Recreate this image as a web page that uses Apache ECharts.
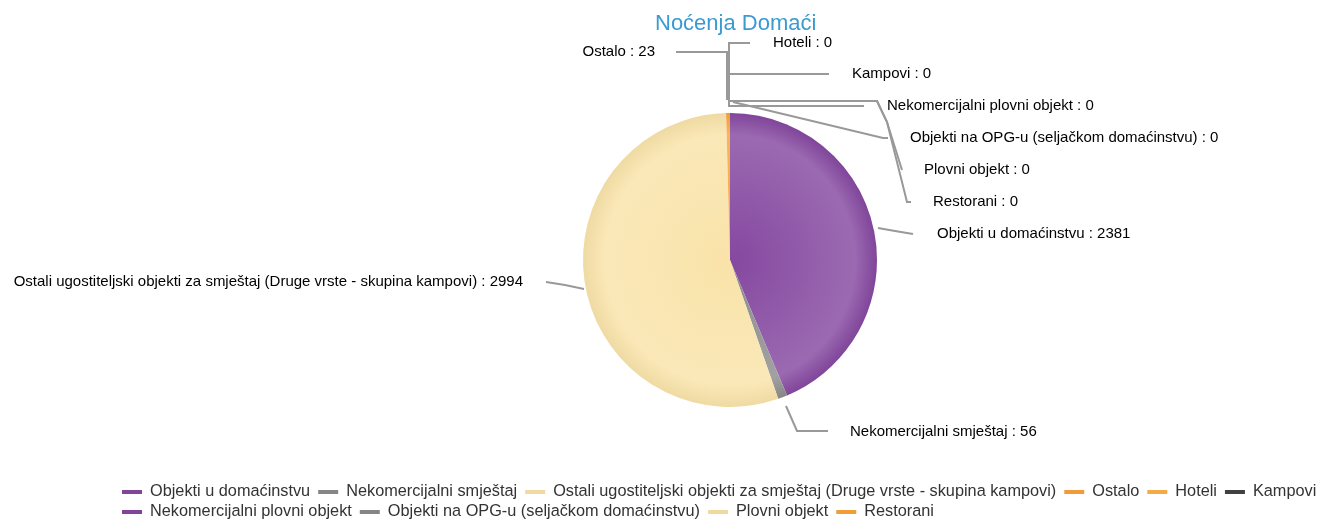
<!DOCTYPE html>
<html>
<head>
<meta charset="utf-8">
<script src="https://cdn.jsdelivr.net/npm/echarts@6/dist/echarts.min.js"></script>
<style>
  html, body { margin: 0; padding: 0; background: #fff; }
  #main { width: 1341px; height: 519px; }
</style>
</head>
<body>
<div id="main"></div>
<script>
// kategorije i vrijednosti
var categories = [
  'Objekti u domaćinstvu',
  'Nekomercijalni smještaj',
  'Ostali ugostiteljski objekti za smještaj (Druge vrste - skupina kampovi)',
  'Ostalo',
  'Hoteli',
  'Kampovi',
  'Nekomercijalni plovni objekt',
  'Objekti na OPG-u (seljačkom domaćinstvu)',
  'Plovni objekt',
  'Restorani'
];
var values = [2381, 56, 2994, 23, 0, 0, 0, 0, 0, 0];
var palette = ['#8548a0', '#8c8c8c', '#f9e3a9', '#fba33a', '#fdb24a', '#444444'];

var cx = 730, cy = 260, R = 147;

// raspored oznaka (kao u originalu): pozicija teksta + linija
var labelSpots = [
  { x: 937, y: 234, align: 'left',  line: [[878, 228], [895, 231], [913, 234]] },
  { x: 850, y: 432, align: 'left',  line: [[786, 406], [797, 431], [828, 431]] },
  { x: 523, y: 282, align: 'right', line: [[584, 289], [565, 285], [546, 282]] },
  { x: 655, y: 52,  align: 'right', line: [[727, 100], [727, 52], [676, 52]] },
  { x: 773, y: 43,  align: 'left',  line: [[729, 100], [729, 43], [750, 43]] },
  { x: 852, y: 74,  align: 'left',  line: [[729, 100], [729, 74], [829, 74]] },
  { x: 887, y: 106, align: 'left',  line: [[729, 100], [729, 106], [864, 106]] },
  { x: 910, y: 138, align: 'left',  line: [[733, 102], [883, 138], [888, 138]] },
  { x: 924, y: 170, align: 'left',  line: [[729, 101], [877, 101], [887, 122], [902, 170]] },
  { x: 933, y: 202, align: 'left',  line: [[729, 101], [877, 101], [887, 122], [907, 202], [911, 202]] }
];

function shade(hex, amt) {
  var n = parseInt(hex.slice(1), 16);
  var r = (n >> 16) & 255, g = (n >> 8) & 255, b = n & 255;
  function f(c) { return Math.max(0, Math.min(255, Math.round(c + (amt > 0 ? (255 - c) * amt : c * amt)))); }
  return 'rgb(' + f(r) + ',' + f(g) + ',' + f(b) + ')';
}

var myChart = echarts.init(document.getElementById('main'));
myChart.setOption({
  animation: false,
  color: palette,
  title: {
    text: 'Noćenja Domaći',
    left: 650,
    top: 8,
    textStyle: { color: '#3b9ad2', fontSize: 22, fontWeight: 'normal', fontFamily: 'Liberation Sans' }
  },
  legend: {
    left: 117,
    right: 0,
    top: 479,
    itemGap: 4,
    itemWidth: 20,
    itemHeight: 4,
    icon: 'rect',
    formatter: '{n|{name}}',
    textStyle: {
      color: '#333',
      fontSize: 16.3,
      fontFamily: 'Liberation Sans',
      rich: {
        n: { color: '#333', fontSize: 16.3, fontFamily: 'Liberation Sans', lineHeight: 14, padding: [0, 4, 0, 3] }
      }
    },
    data: categories
  },
  series: [{
    type: 'pie',
    center: [cx, cy],
    radius: R,
    startAngle: 90,
    clockwise: true,
    minAngle: 0,
    avoidLabelOverlap: false,
    stillShowZeroSum: true,
    label: {
      show: true,
      formatter: '{b} : {c}',
      color: '#000',
      fontSize: 15,
      fontFamily: 'Liberation Sans'
    },
    labelLine: {
      show: true,
      length: 20,
      length2: 30,
      lineStyle: { color: '#999', width: 2 }
    },
    labelLayout: function (params) {
      var s = labelSpots[params.dataIndex];
      return {
        x: s.x,
        y: s.y,
        align: s.align,
        verticalAlign: 'middle',
        labelLinePoints: s.line
      };
    },
    data: categories.map(function (name, i) {
      var base = palette[i % palette.length];
      return {
        name: name,
        value: values[i],
        itemStyle: {
          color: {
            type: 'radial', x: cx, y: cy, r: R, global: true,
            colorStops: [
              { offset: 0, color: base },
              { offset: 0.85, color: shade(base, 0.18) },
              { offset: 1, color: shade(base, -0.04) }
            ]
          }
        }
      };
    })
  }]
});
</script>
</body>
</html>
